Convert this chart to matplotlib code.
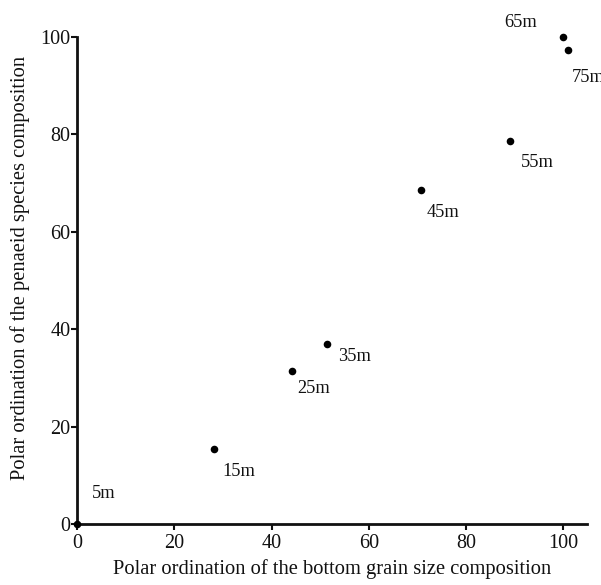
import matplotlib
matplotlib.use("Agg")
import matplotlib.pyplot as plt

plt.rcParams['font.family'] = ['Liberation Serif', 'DejaVu Serif']

# data
labels = ["5m", "15m", "25m", "35m", "45m", "55m", "65m", "75m"]
x_vals = [0, 28.2, 44.1, 51.3, 70.8, 89.1, 99.9, 101.0]
y_vals = [0, 15.3, 31.4, 36.9, 68.5, 78.7, 100.0, 97.3]
x_ticks = [0, 20, 40, 60, 80, 100]
y_ticks = [0, 20, 40, 60, 80, 100]

# label offsets (pixels)
label_offsets = [(15, 30), (8, -22), (6, -17), (11, -12), (5, -22), (11, -22), (-59, 14), (4, -27)]

fig = plt.figure(figsize=(6.01, 5.85), dpi=100)
ax = fig.add_axes([0.1286, 0.1043, 0.976 - 0.1286, 0.9368 - 0.1043])

ax.scatter(x_vals, y_vals, s=30, color='black', zorder=5, clip_on=False, linewidths=0)

for lab, x, y, (dx, dy) in zip(labels, x_vals, y_vals, label_offsets):
    ax.annotate(lab, (x, y), xytext=(dx, dy), textcoords='offset pixels',
                ha='left', va='center', fontsize=13.2, color='#111111',
                annotation_clip=False)

ax.set_xlim(0, 104.8)
ax.set_ylim(0, 100)
ax.set_xticks(x_ticks)
ax.set_yticks(y_ticks)
ax.tick_params(axis='both', direction='out', length=4, width=1.5, labelsize=14.5, colors='#111111')
ax.tick_params(axis='x', pad=3)
ax.tick_params(axis='y', pad=1)

for side in ['top', 'right']:
    ax.spines[side].set_visible(False)
for side in ['left', 'bottom']:
    ax.spines[side].set_linewidth(2)
    ax.spines[side].set_color('#111111')

ax.set_xlabel("Polar ordination of the bottom grain size composition", fontsize=14.8, color='#111111', va='center')
ax.set_ylabel("Polar ordination of the penaeid species composition", fontsize=14.8, color='#111111', va='center')
ax.xaxis.set_label_coords(0.5 * (104.8 / 104.8) + (587.0 - 77.3) * 0 , -0.0924)
ax.yaxis.set_label_coords(-0.1125, 0.5257)

fig.savefig("out.png", dpi=100)
